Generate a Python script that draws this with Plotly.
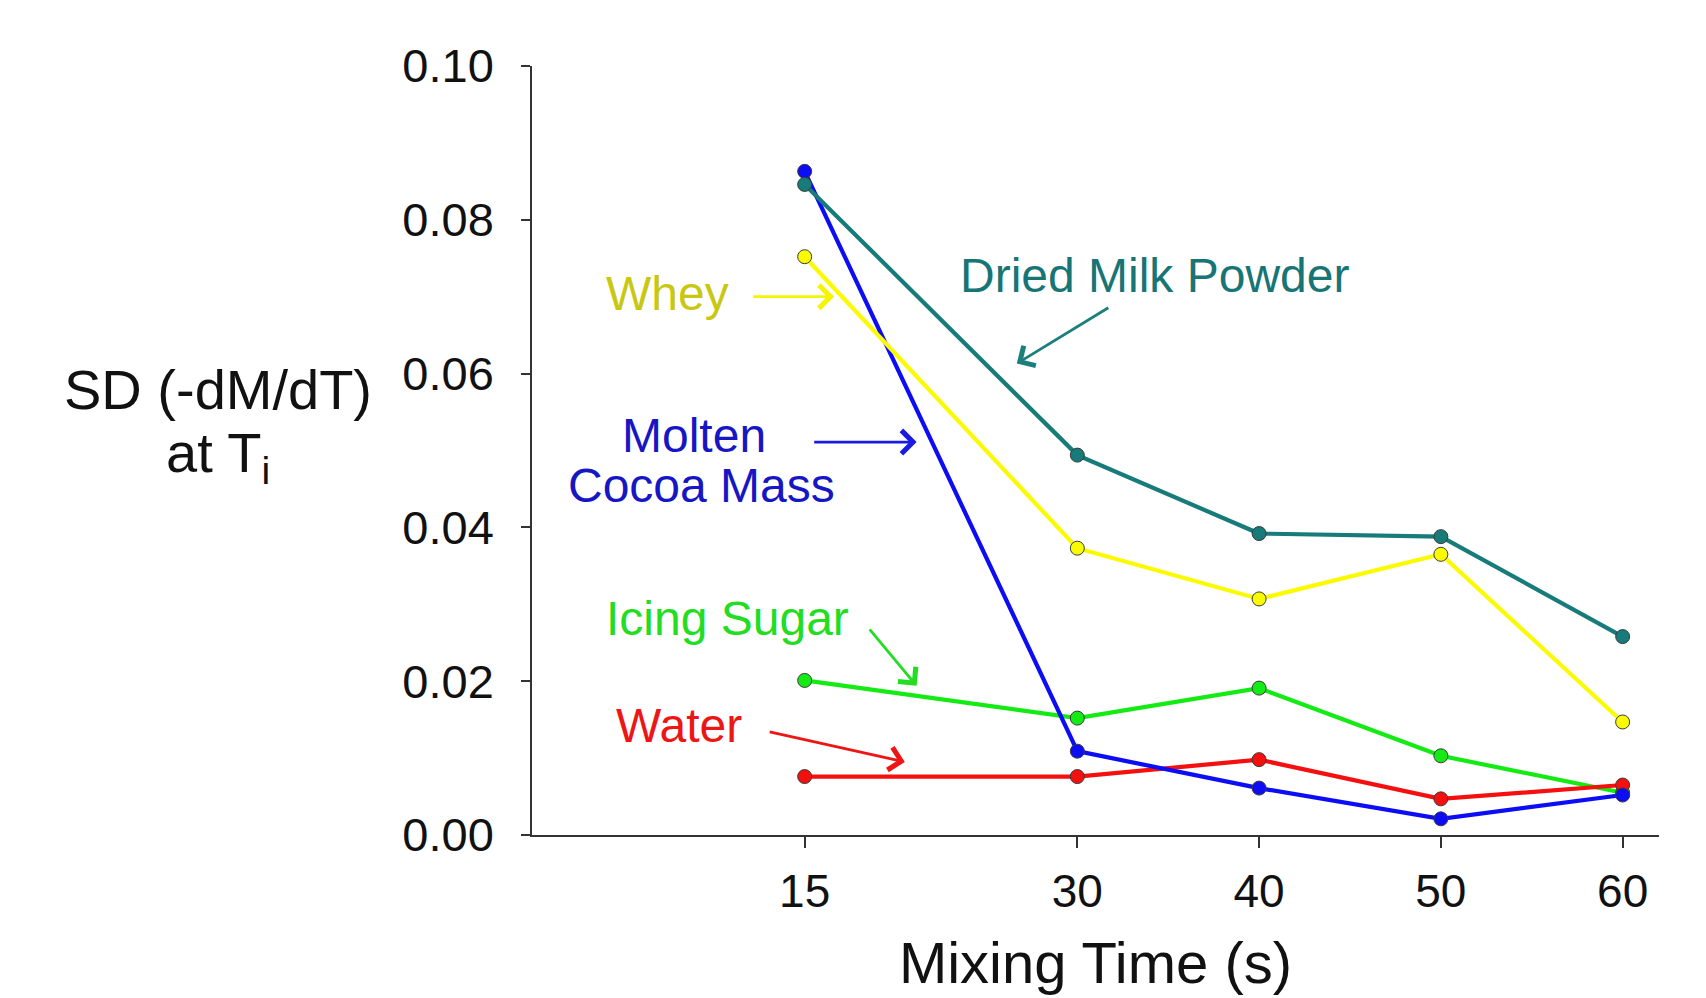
import plotly.graph_objects as go

# Mixing times (s)
mixing_time = [15, 30, 40, 50, 60]

# SD(-dM/dT) at Ti for each ingredient
icing_sugar = [0.0201, 0.0152, 0.0191, 0.0103, 0.0055]
water = [0.0076, 0.0076, 0.0098, 0.0047, 0.0065]
molten_cocoa_mass = [0.0863, 0.0109, 0.0061, 0.0021, 0.0052]
whey = [0.0752, 0.0373, 0.0307, 0.0365, 0.0147]
dried_milk_powder = [0.0846, 0.0494, 0.0392, 0.0388, 0.0258]

x_ticks = [15, 30, 40, 50, 60]
y_ticks = [0.00, 0.02, 0.04, 0.06, 0.08, 0.10]

FONT = "Liberation Sans, Arial, Helvetica, sans-serif"

series = [
    ("Icing Sugar", icing_sugar, "#14ea14"),
    ("Water", water, "#f51010"),
    ("Molten Cocoa Mass", molten_cocoa_mass, "#0c0cf5"),
    ("Whey", whey, "#fbfb00"),
    ("Dried Milk Powder", dried_milk_powder, "#177b7a"),
]

fig = go.Figure()
for name, vals, col in series:
    fig.add_trace(go.Scatter(
        x=mixing_time, y=vals, name=name, mode="lines+markers",
        line=dict(color=col, width=4.2),
        marker=dict(size=14, color=col, line=dict(color="#3a3a3a", width=1)),
        showlegend=False,
    ))

# Text labels, in data coordinates
texts = [
    ("Dried Milk Powder", 34.27, 0.0728, "#177575"),
    ("Whey", 7.46, 0.0704, "#c8c812"),
    ("Molten", 8.90, 0.0520, "#1616c4"),
    ("Cocoa Mass", 9.32, 0.0455, "#1616c4"),
    ("Icing Sugar", 10.75, 0.0282, "#22dd22"),
    ("Water", 8.06, 0.0143, "#ee1515"),
]
for text, tx, ty, tcol in texts:
    fig.add_annotation(x=tx, y=ty, xref="x", yref="y", text=text, showarrow=False,
                       font=dict(family=FONT, size=48, color=tcol),
                       xanchor="center", yanchor="middle", align="center")

# Pointer arrows: tail (x, y) -> head (x, y)
arrows = [
    ((31.87, 0.0688), (26.67, 0.0613), "#1b7f7c"),
    ((12.01, 0.0700), (16.62, 0.0700), "#f5f500"),
    ((15.36, 0.0511), (21.16, 0.0511), "#1a1ae0"),
    ((18.41, 0.0272), (21.16, 0.0194), "#22dd22"),
    ((12.91, 0.0135), (20.51, 0.0095), "#ee1515"),
]
for tail, head, acol in arrows:
    fig.add_annotation(x=head[0], y=head[1], ax=tail[0], ay=tail[1],
                       xref="x", yref="y", axref="x", ayref="y", text=" ",
                       showarrow=True, arrowhead=4, arrowsize=1.6, arrowwidth=2.8,
                       arrowcolor=acol, standoff=0, startstandoff=0)

# Horizontal y-axis title, two lines
fig.add_annotation(
    x=-0.2786, y=0.579, xref="paper", yref="paper",
    text="SD (-dM/dT)", showarrow=False,
    font=dict(family=FONT, size=56, color="#111111"),
    xanchor="center", yanchor="middle",
)
fig.add_annotation(
    x=-0.2786, y=0.492, xref="paper", yref="paper",
    text="at T<sub>i</sub>", showarrow=False,
    font=dict(family=FONT, size=56, color="#111111"),
    xanchor="center", yanchor="middle",
)

fig.update_layout(
    width=1706, height=998,
    margin=dict(l=532, r=47, t=66, b=163),
    paper_bgcolor="white", plot_bgcolor="white",
    font=dict(family=FONT, color="#111111"),
)
fig.update_xaxes(
    range=[0, 62], tickvals=x_ticks, ticktext=[str(v) for v in x_ticks],
    showgrid=False, zeroline=False, showline=True, linecolor="#333333", linewidth=1.5,
    ticks="outside", ticklen=11, tickwidth=1.5, tickcolor="#333333",
    ticklabelstandoff=4,
    tickfont=dict(family=FONT, size=46, color="#111111"),
    title=dict(text="Mixing Time (s)", font=dict(family=FONT, size=58, color="#111111"), standoff=26),
)
fig.update_yaxes(
    range=[0, 0.1], tickvals=y_ticks, tickformat=".2f",
    showgrid=False, zeroline=False, showline=True, linecolor="#333333", linewidth=1.5,
    ticks="outside", ticklen=9, tickwidth=1.5, tickcolor="#333333",
    ticklabelstandoff=18,
    tickfont=dict(family=FONT, size=47, color="#111111"),
)

fig.write_html("out.html")
